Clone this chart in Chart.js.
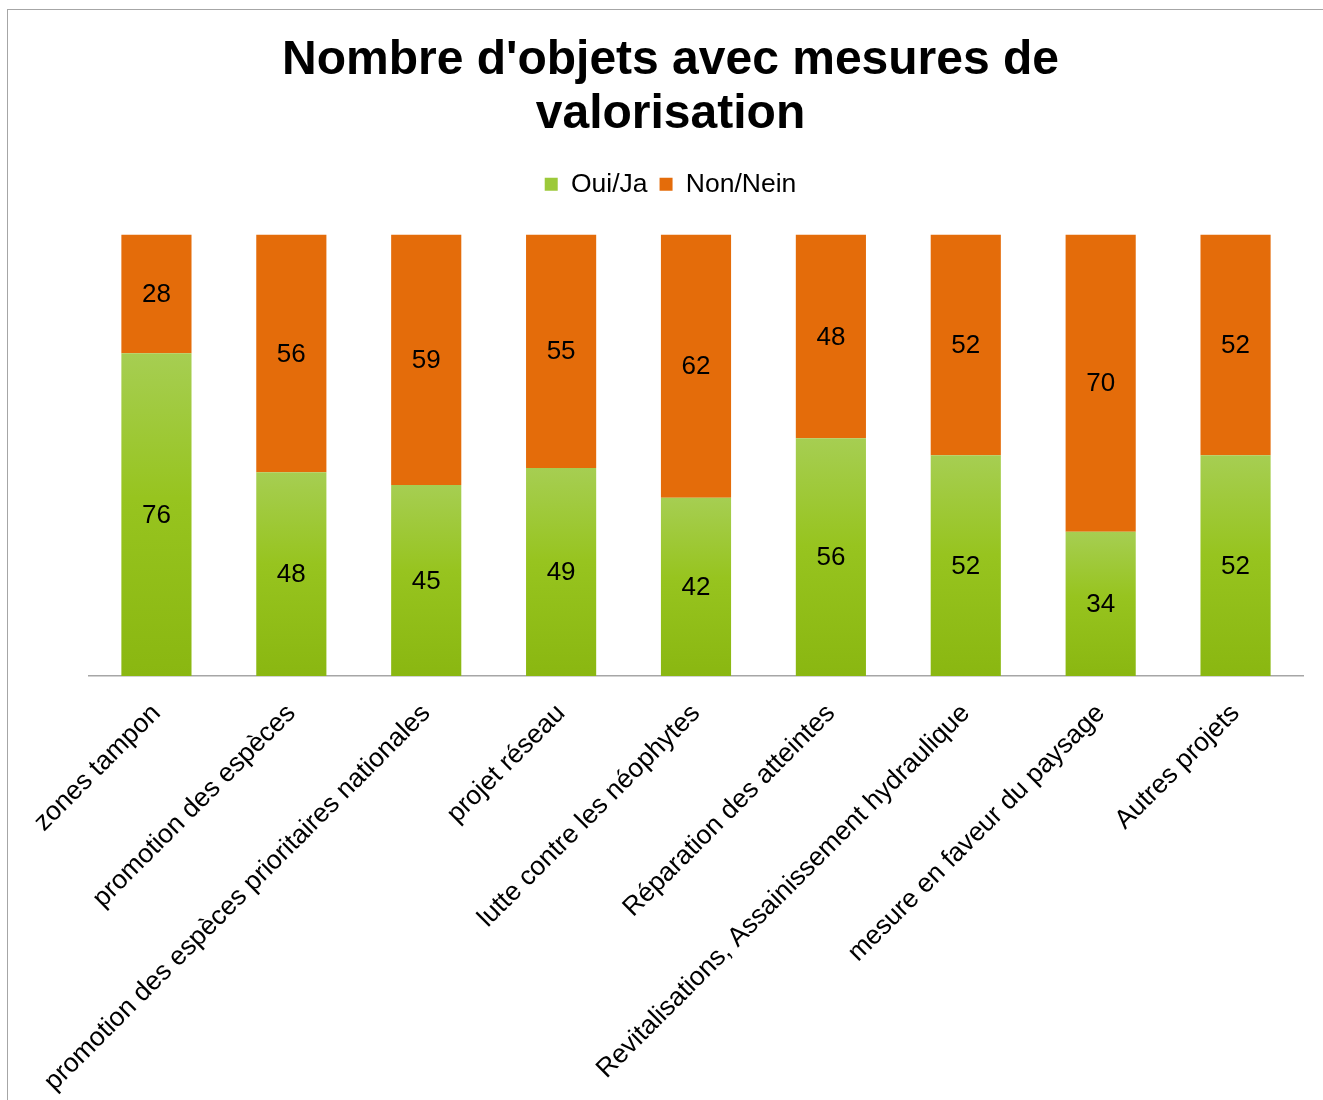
<!DOCTYPE html>
<html lang="fr">
<head>
<meta charset="utf-8">
<title>Nombre d'objets avec mesures de valorisation</title>
<script src="https://cdn.jsdelivr.net/npm/chart.js@4.4.1/dist/chart.umd.min.js"></script>
<style>
  html, body { margin: 0; padding: 0; background: #ffffff; }
  #wrap { position: relative; width: 1323px; height: 1100px; overflow: hidden; }
  #frame {
    position: absolute; left: 7px; top: 9px; right: -10px; bottom: -10px;
    border-top: 1px solid #a6a6a6; border-left: 1px solid #a6a6a6;
    pointer-events: none;
  }
  canvas { position: absolute; left: 0; top: 0; }
</style>
</head>
<body>
<div id="wrap">
  <canvas id="chart" width="1323" height="1100"></canvas>
  <div id="frame"></div>
</div>
<script>
// Categories of valorisation measures
const categories = [
  'zones tampon',
  'promotion des espèces',
  'promotion des espèces prioritaires nationales',
  'projet réseau',
  'lutte contre les néophytes',
  'Réparation des atteintes',
  'Revitalisations, Assainissement hydraulique',
  'mesure en faveur du paysage',
  'Autres projets'
];

// Number of objects per answer
const ouiJa  = [76, 48, 45, 49, 42, 56, 52, 34, 52];
const nonNein = [28, 56, 59, 55, 62, 48, 52, 70, 52];

const seriesNames = ['Oui/Ja', 'Non/Nein'];
const titleLines = ["Nombre d'objets avec mesures de", 'valorisation'];

// Each column is shown as a share of its total (100 % stacked)
const totals = categories.map((_, i) => ouiJa[i] + nonNein[i]);
const ouiShare = ouiJa.map((v, i) => v / totals[i] * 100);
const nonShare = nonNein.map((v, i) => v / totals[i] * 100);

const FONT = "'Liberation Sans', Arial, sans-serif";
const ORANGE = '#e46c0a';

// Vertical green gradient, drawn per bar from its top to the baseline
function greenFill(ctx) {
  const chart = ctx.chart;
  const area = chart.chartArea;
  const y = chart.scales.y;
  if (!area || !y || ctx.type !== 'data') return '#95c31c';
  const top = y.getPixelForValue(ouiShare[ctx.dataIndex]);
  const bottom = y.getPixelForValue(0);
  const g = chart.ctx.createLinearGradient(0, top, 0, bottom);
  g.addColorStop(0, '#a6ce52');
  g.addColorStop(0.45, '#97c41f');
  g.addColorStop(1, '#8ab711');
  return g;
}

// Writes the raw counts in the middle of each segment
const countLabels = {
  id: 'countLabels',
  afterDatasetsDraw(chart) {
    const ctx = chart.ctx;
    const raw = [ouiJa, nonNein];
    ctx.save();
    ctx.font = '26px ' + FONT;
    ctx.fillStyle = '#000000';
    ctx.textAlign = 'center';
    ctx.textBaseline = 'middle';
    chart.data.datasets.forEach((ds, di) => {
      const meta = chart.getDatasetMeta(di);
      meta.data.forEach((bar, i) => {
        const p = bar.getCenterPoint();
        ctx.fillText(String(raw[di][i]), p.x, p.y + 1);
      });
    });
    ctx.restore();
  }
};

// Extra room between the legend and the bars
const legendGap = {
  id: 'legendGap',
  beforeInit(chart) {
    const legend = chart.legend;
    if (!legend) return;
    const fit = legend.fit;
    legend.fit = function () {
      fit.call(this);
      this.height += 27;
    };
  }
};

new Chart(document.getElementById('chart'), {
  type: 'bar',
  data: {
    labels: categories,
    datasets: [
      {
        label: seriesNames[0],
        data: ouiShare,
        backgroundColor: greenFill,
        borderWidth: 0,
        categoryPercentage: 1,
        barPercentage: 0.52
      },
      {
        label: seriesNames[1],
        data: nonShare,
        backgroundColor: ORANGE,
        borderWidth: 0,
        categoryPercentage: 1,
        barPercentage: 0.52
      }
    ]
  },
  options: {
    responsive: false,
    animation: false,
    devicePixelRatio: 1,
    layout: { padding: { left: 38, right: 20, top: 0, bottom: 0 } },
    scales: {
      x: {
        stacked: true,
        grid: { display: false, drawTicks: false },
        border: { display: true, color: '#a6a6a6', width: 1.5 },
        ticks: {
          color: '#000000',
          font: { family: FONT, size: 26.5 },
          minRotation: 45,
          maxRotation: 45,
          autoSkip: false,
          padding: 22
        },
        afterFit(scale) { scale.height = 424; }
      },
      y: {
        stacked: true,
        display: true,
        min: 0,
        max: 100,
        grid: { display: false, drawTicks: false },
        border: { display: false },
        ticks: { display: false },
        afterFit(scale) { scale.width = 51; }
      }
    },
    plugins: {
      title: {
        display: true,
        text: titleLines,
        color: '#000000',
        font: { family: FONT, size: 48, weight: 'bold', lineHeight: '54px' },
        padding: { top: 34, bottom: 17 }
      },
      legend: {
        display: true,
        position: 'top',
        labels: {
          color: '#000000',
          font: { family: FONT, size: 26.5 },
          boxWidth: 13,
          boxHeight: 13,
          padding: 12,
          generateLabels(chart) {
            return chart.data.datasets.map((ds, i) => ({
              text: ds.label,
              fillStyle: i === 0 ? '#9cc93a' : ORANGE,
              strokeStyle: 'rgba(0,0,0,0)',
              lineWidth: 0,
              hidden: false,
              datasetIndex: i
            }));
          }
        }
      },
      tooltip: { enabled: false }
    }
  },
  plugins: [countLabels, legendGap]
});
</script>
</body>
</html>
